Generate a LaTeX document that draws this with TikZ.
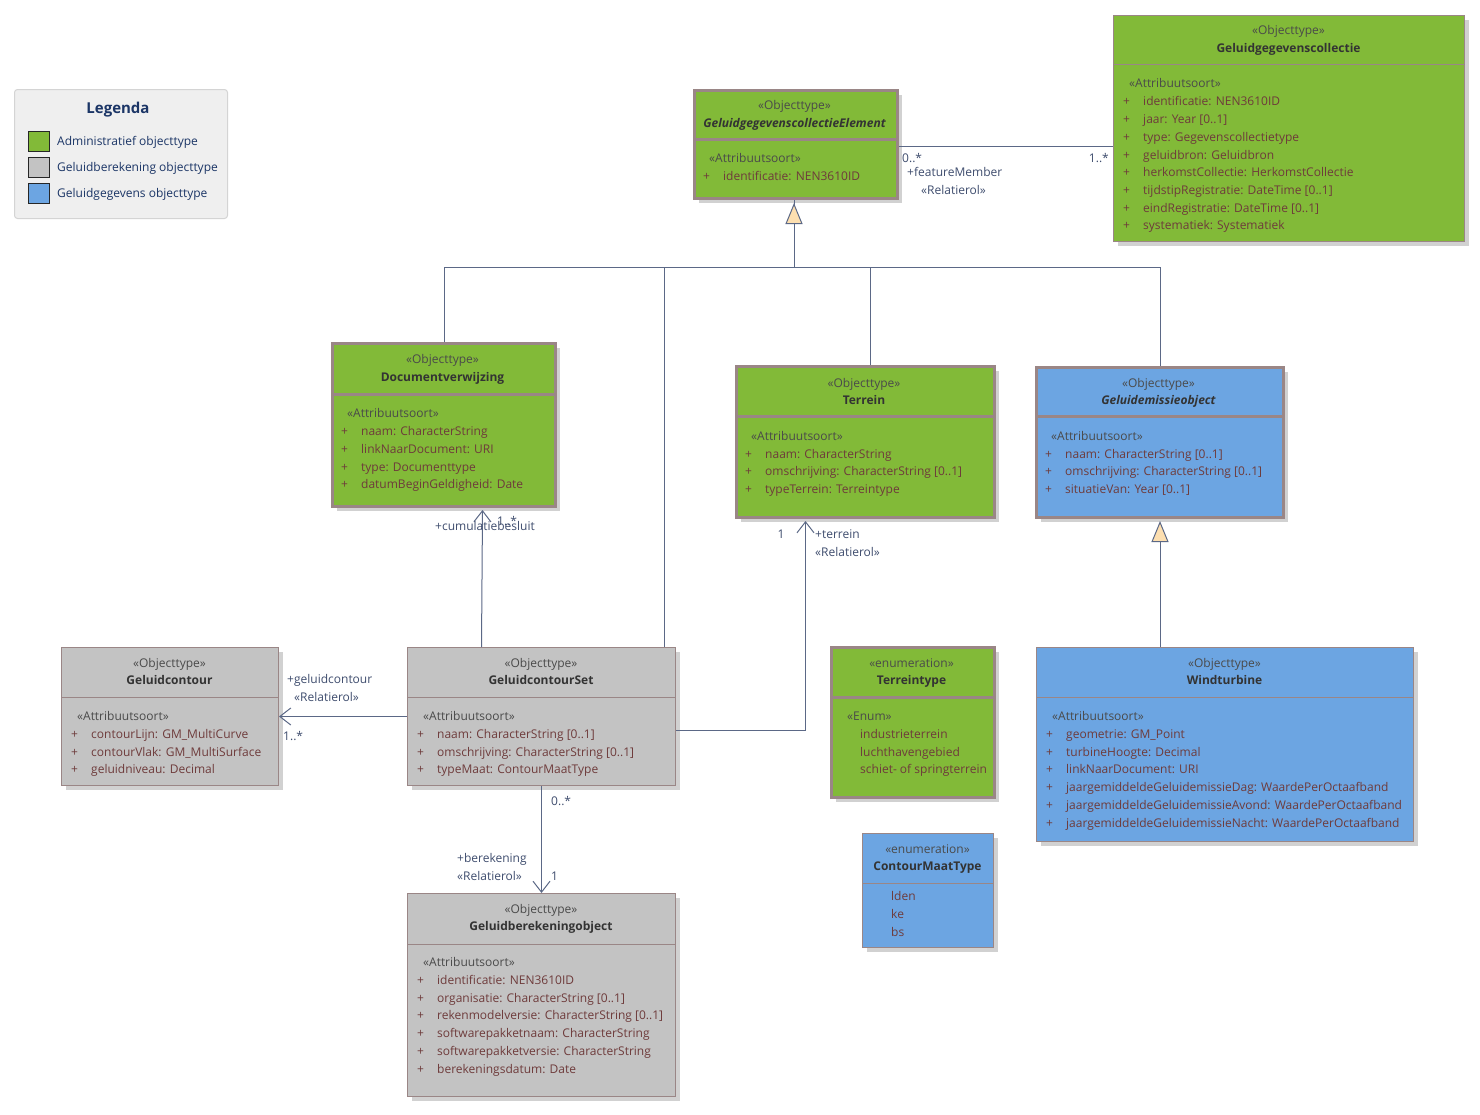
\documentclass[tikz,border=0pt]{standalone}
\usepackage{fontspec}
\setmainfont{Open Sans}
\usetikzlibrary{arrows.meta,shadows}
\definecolor{grn}{HTML}{82BA38}
\definecolor{gry}{HTML}{C3C3C3}
\definecolor{blu}{HTML}{6CA5E2}
\definecolor{bord}{HTML}{9A8686}
\definecolor{lnc}{HTML}{5B6886}
\definecolor{attrc}{HTML}{6E3B3B}
\definecolor{stc}{HTML}{4A4A4A}
\definecolor{namec}{HTML}{333333}
\definecolor{lblc}{HTML}{3F4D6E}
\definecolor{navy}{HTML}{1B3566}
\definecolor{peach}{HTML}{FDDFB0}
\definecolor{legfill}{HTML}{EFEFEF}
\definecolor{legbord}{HTML}{D4D4D4}
\newcommand\umlbox[8]{%
  \node[cls, fill=#7, #8, minimum width={#4-#2}, minimum height={#5-#3}] (#1) at (#2,#3) {};
  \draw[#8, draw=bord] (#2,#6) -- (#4,#6);}
\newcommand\stereo[3]{\node[txt, text=stc] at (#1,#2) {#3};}
\newcommand\cname[3]{\node[txt, text=namec, font=\tfont\bfseries] at (#1,#2) {#3};}
\newcommand\cnamei[3]{\node[txt, text=namec, font=\tfont\bfseries\itshape] at (#1,#2) {#3};}
\newcommand\asort[3]{\node[txt, text=stc, anchor=west] at (#1+16,#2) {#3};}
\newcommand\attr[3]{\node[txt, text=attrc, anchor=west] at (#1+10,#2) {+};
  \node[txt, text=attrc, anchor=west] at (#1+30,#2) {#3};}
\newcommand\tfont{\fontsize{12}{14}\selectfont}
\begin{document}
\begin{tikzpicture}[x=1pt,y=-1pt,
  cls/.style={draw=bord, line width=1pt, anchor=north west, inner sep=0pt,
    drop shadow={shadow xshift=4pt, shadow yshift=-4pt, fill=black!18, opacity=1}},
  thin/.style={line width=1pt},
  thick/.style={line width=3pt},
  txt/.style={inner sep=0pt, text height=9pt, text depth=2.5pt, font=\tfont},
  lbl/.style={txt, text=lblc, anchor=west},
  conn/.style={draw=lnc, line width=1pt},
  assoc/.style={conn, -{Straight Barb[length=11pt, width=17pt, line width=1pt]}},
  gen/.style={conn, -{Triangle[length=21pt, width=17pt, fill=peach, line width=1pt]}},
  legbox/.style={draw=legbord, fill=legfill, rounded corners=3pt, line width=1pt,
    anchor=north west, minimum width=213pt, minimum height=129pt, inner sep=0pt},
  swatch/.style={draw=black!85, line width=1.2pt, minimum width=21pt, minimum height=20pt, inner sep=0pt}
]
\useasboundingbox (0,0) rectangle (1480,1114);
\fill[white] (0,0) rectangle (1480,1114);

% ---------- Legend ----------
\node[legbox] (leg) at (14,89) {};
\node[inner sep=0pt, text=navy, font=\fontsize{15}{17}\selectfont\bfseries] (legt) at (118,110) {Legenda};
\node[swatch, fill=grn] (sw1) at (39,141.5) {};
\node[swatch, fill=gry] (sw2) at (39,167.5) {};
\node[swatch, fill=blu] (sw3) at (39,193.5) {};
\node[txt, text=navy, anchor=west] (lt1) at (57,142) {Administratief objecttype};
\node[txt, text=navy, anchor=west] (lt2) at (57,168) {Geluidberekening objecttype};
\node[txt, text=navy, anchor=west] (lt3) at (57,194) {Geluidgegevens objecttype};

% ---------- Boxes ----------
\umlbox{gce}{693}{89}{896}{197}{139}{grn}{thick}
\stereo{794.5}{106}{«Objecttype»}
\cnamei{794.5}{124}{GeluidgegevenscollectieElement}
\asort{693}{159}{«Attribuutsoort»}
\attr{693}{177}{identificatie: NEN3610ID}

\umlbox{ggc}{1113}{15}{1464}{241}{64}{grn}{thin}
\stereo{1288.5}{31}{«Objecttype»}
\cname{1288.5}{49}{Geluidgegevenscollectie}
\asort{1113}{84}{«Attribuutsoort»}
\attr{1113}{102}{identificatie: NEN3610ID}
\attr{1113}{120}{jaar: Year [0..1]}
\attr{1113}{138}{type: Gegevenscollectietype}
\attr{1113}{156}{geluidbron: Geluidbron}
\attr{1113}{173}{herkomstCollectie: HerkomstCollectie}
\attr{1113}{191}{tijdstipRegistratie: DateTime [0..1]}
\attr{1113}{209}{eindRegistratie: DateTime [0..1]}
\attr{1113}{226}{systematiek: Systematiek}

\umlbox{docv}{331}{342}{554}{505}{394}{grn}{thick}
\stereo{442.5}{360}{«Objecttype»}
\cname{442.5}{378}{Documentverwijzing}
\asort{331}{414}{«Attribuutsoort»}
\attr{331}{432}{naam: CharacterString}
\attr{331}{450}{linkNaarDocument: URI}
\attr{331}{468}{type: Documenttype}
\attr{331}{485}{datumBeginGeldigheid: Date}

\umlbox{terr}{735}{365}{993}{516}{416}{grn}{thick}
\stereo{864}{384}{«Objecttype»}
\cname{864}{401}{Terrein}
\asort{735}{437}{«Attribuutsoort»}
\attr{735}{455}{naam: CharacterString}
\attr{735}{472}{omschrijving: CharacterString [0..1]}
\attr{735}{490}{typeTerrein: Terreintype}

\umlbox{gem}{1035}{366}{1282}{516}{416}{blu}{thick}
\stereo{1158.5}{384}{«Objecttype»}
\cnamei{1158.5}{401}{Geluidemissieobject}
\asort{1035}{437}{«Attribuutsoort»}
\attr{1035}{455}{naam: CharacterString [0..1]}
\attr{1035}{472}{omschrijving: CharacterString [0..1]}
\attr{1035}{490}{situatieVan: Year [0..1]}

\umlbox{gc}{61}{647}{278}{785}{697}{gry}{thin}
\stereo{169.5}{664}{«Objecttype»}
\cname{169.5}{681}{Geluidcontour}
\asort{61}{717}{«Attribuutsoort»}
\attr{61}{735}{contourLijn: GM\_MultiCurve}
\attr{61}{753}{contourVlak: GM\_MultiSurface}
\attr{61}{770}{geluidniveau: Decimal}

\umlbox{gcs}{407}{647}{675}{785}{697}{gry}{thin}
\stereo{541}{664}{«Objecttype»}
\cname{541}{681}{GeluidcontourSet}
\asort{407}{717}{«Attribuutsoort»}
\attr{407}{735}{naam: CharacterString [0..1]}
\attr{407}{753}{omschrijving: CharacterString [0..1]}
\attr{407}{770}{typeMaat: ContourMaatType}

\umlbox{tt}{830}{646}{993}{796}{697}{grn}{thick}
\stereo{911.5}{664}{«enumeration»}
\cname{911.5}{681}{Terreintype}
\node[txt, text=stc, anchor=west] at (847,717) {«Enum»};
\node[txt, text=attrc, anchor=west] at (860,735) {industrieterrein};
\node[txt, text=attrc, anchor=west] at (860,753) {luchthavengebied};
\node[txt, text=attrc, anchor=west] at (860,770) {schiet- of springterrein};

\umlbox{cmt}{862}{833}{993}{947}{883}{blu}{thin}
\stereo{927.5}{850}{«enumeration»}
\cname{927.5}{867}{ContourMaatType}
\node[txt, text=attrc, anchor=west] at (891,897) {lden};
\node[txt, text=attrc, anchor=west] at (891,915) {ke};
\node[txt, text=attrc, anchor=west] at (891,933) {bs};

\umlbox{wt}{1036}{647}{1413}{841}{697}{blu}{thin}
\stereo{1224.5}{664}{«Objecttype»}
\cname{1224.5}{681}{Windturbine}
\asort{1036}{717}{«Attribuutsoort»}
\attr{1036}{735}{geometrie: GM\_Point}
\attr{1036}{753}{turbineHoogte: Decimal}
\attr{1036}{770}{linkNaarDocument: URI}
\attr{1036}{788}{jaargemiddeldeGeluidemissieDag: WaardePerOctaafband}
\attr{1036}{806}{jaargemiddeldeGeluidemissieAvond: WaardePerOctaafband}
\attr{1036}{824}{jaargemiddeldeGeluidemissieNacht: WaardePerOctaafband}

\umlbox{gbo}{407}{893}{675}{1096}{944}{gry}{thin}
\stereo{541}{910}{«Objecttype»}
\cname{541}{927}{Geluidberekeningobject}
\asort{407}{963}{«Attribuutsoort»}
\attr{407}{981}{identificatie: NEN3610ID}
\attr{407}{999}{organisatie: CharacterString [0..1]}
\attr{407}{1016}{rekenmodelversie: CharacterString [0..1]}
\attr{407}{1034}{softwarepakketnaam: CharacterString}
\attr{407}{1052}{softwarepakketversie: CharacterString}
\attr{407}{1070}{berekeningsdatum: Date}

% ---------- Generalisations ----------
\coordinate (junc) at (794,267);
\draw[conn] (docv.north) |- (junc);
\draw[conn] ([xshift=123pt]gcs.north) |- (junc);
\draw[conn] ([xshift=5pt]terr.north) |- (junc);
\draw[conn] (gem.north) |- (junc);
\draw[gen] (junc) -- (junc |- gce.south) ++(0,3);
\draw[gen] (gem.south |- wt.north) -- ([yshift=-2pt]gem.south);

% ---------- Associations ----------
\draw[conn] ([yshift=-2pt]gce.east) -- ([yshift=-2pt]gce.east -| ggc.west);
\node[lbl] at (902,159) {0..*};
\node[lbl] at (907,173) {+featureMember};
\node[lbl] at (921,191) {«Relatierol»};
\node[lbl, anchor=east] at (1109,159) {1..*};

\draw[assoc] (gcs.west) -- (gc.east);
\node[lbl] at (287,680) {+geluidcontour};
\node[lbl] at (294,698) {«Relatierol»};
\node[lbl] at (283,737) {1..*};

\draw[assoc] ([xshift=-60pt]gcs.north) -- ([xshift=38.5pt,yshift=-2pt]docv.south);
\node[lbl] at (435,527) {+cumulatiebesluit};
\node[lbl] at (497,522) {1..*};

\draw[assoc] ([yshift=-14pt]gcs.east) -| ([xshift=-60pt,yshift=-2pt]terr.south);
\node[lbl, anchor=center] at (781,535) {1};
\node[lbl] at (815,535) {+terrein};
\node[lbl] at (815,553) {«Relatierol»};

\draw[assoc] (gcs.south) -- (gbo.north);
\node[lbl] at (551,802) {0..*};
\node[lbl] at (457,859) {+berekening};
\node[lbl] at (457,877) {«Relatierol»};
\node[lbl] at (551,877) {1};
\end{tikzpicture}
\end{document}
